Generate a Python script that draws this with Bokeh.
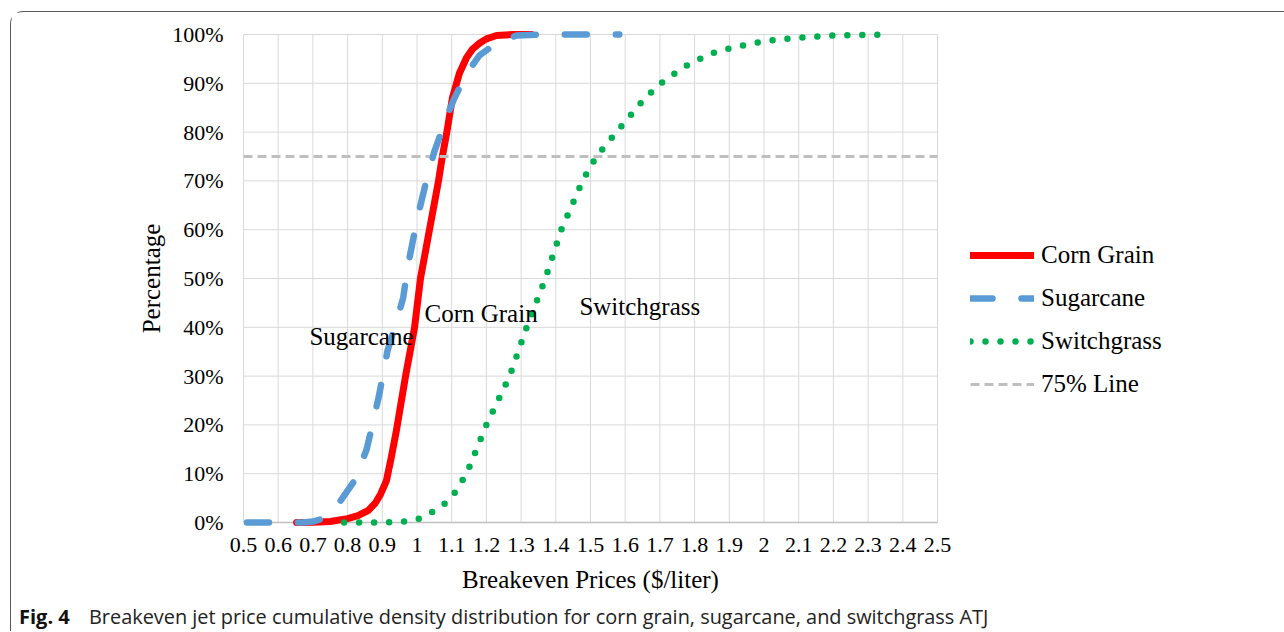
from bokeh.plotting import figure
from bokeh.models import Range1d, FixedTicker, Legend, LegendItem, Label
from bokeh.embed import file_html
from bokeh.resources import INLINE

# ---------------- data ----------------
x_ticks = [0.5, 0.6, 0.7, 0.8, 0.9, 1.0, 1.1, 1.2, 1.3, 1.4, 1.5, 1.6, 1.7,
           1.8, 1.9, 2.0, 2.1, 2.2, 2.3, 2.4, 2.5]
x_tick_labels = ["0.5", "0.6", "0.7", "0.8", "0.9", "1", "1.1", "1.2", "1.3",
                 "1.4", "1.5", "1.6", "1.7", "1.8", "1.9", "2", "2.1", "2.2",
                 "2.3", "2.4", "2.5"]
y_ticks = [0, 10, 20, 30, 40, 50, 60, 70, 80, 90, 100]
y_tick_labels = ["0%", "10%", "20%", "30%", "40%", "50%", "60%", "70%",
                 "80%", "90%", "100%"]

corn_x = [0.653, 0.70, 0.75, 0.80, 0.83, 0.86, 0.88, 0.895, 0.912, 0.925,
          0.941, 0.967, 0.993, 1.01, 1.036, 1.062, 1.073, 1.086, 1.102, 1.122,
          1.143, 1.16, 1.18, 1.20, 1.229, 1.275, 1.33]
corn_y = [0, 0.05, 0.2, 0.8, 1.4, 2.5, 4.0, 5.8, 8.6, 13, 19, 30, 40, 50, 60,
          70, 75, 80, 87, 92, 95.3, 97, 98.2, 99.1, 99.8, 100, 100]

sugar_x = [0.51, 0.60, 0.67, 0.70, 0.73, 0.76, 0.78, 0.82, 0.855, 0.89, 0.915,
           0.94, 0.96, 0.975, 1.0, 1.025, 1.05, 1.085, 1.108, 1.143, 1.18,
           1.229, 1.287, 1.36, 1.583]
sugar_y = [0, 0, 0, 0.2, 0.8, 2.5, 4.5, 8.6, 15, 25.8, 35.2, 41, 46, 53, 62,
           69.5, 76, 83, 87, 92, 95.7, 98.2, 99.8, 100, 100]

switch_x = [0.79, 0.90, 0.95, 1.0, 1.035, 1.067, 1.10, 1.143, 1.20, 1.267,
            1.316, 1.37, 1.416, 1.477, 1.517, 1.575, 1.656, 1.713, 1.777,
            1.846, 1.921, 1.999, 2.076, 2.2, 2.367]
switch_y = [0, 0, 0.1, 0.6, 1.8, 3.1, 5.1, 10, 20, 30, 40, 50, 60, 70, 75, 80,
            86.9, 90.6, 93.6, 96.1, 97.5, 98.6, 99.2, 99.8, 100]

line75_x = [0.5, 2.5]
line75_y = [75, 75]

series_names = ["Corn Grain", "Sugarcane", "Switchgrass", "75% Line"]

# ---------------- figure ----------------
SERIF = "Liberation Serif"
SANS = "Open Sans"
xpad = 4 / 347.0
ypad = 4 / 4.88

p = figure(frame_width=702, frame_height=496, output_backend="svg",
           toolbar_location=None,
           x_range=Range1d(x_ticks[0] - xpad, x_ticks[-1] + xpad),
           y_range=Range1d(y_ticks[0] - ypad, y_ticks[-1] + ypad),
           min_border_left=228, min_border_right=0,
           min_border_top=18, min_border_bottom=105)
p.styles = {"margin-left": "10px", "margin-top": "11px",
            "border-left": "1.5px solid #5a5a5a",
            "border-top": "1.5px solid #5a5a5a",
            "border-top-left-radius": "13px"}
p.outline_line_color = None
p.background_fill_color = "white"
p.border_fill_color = "white"
p.xgrid.visible = False
p.ygrid.visible = False

# grid lines from the tick arrays
n_x = len(x_ticks)
n_y = len(y_ticks)
p.segment(x0=x_ticks, y0=[y_ticks[0]] * n_x, x1=x_ticks, y1=[y_ticks[-1]] * n_x,
          line_color="#d9d9d9", line_width=1)
p.segment(x0=[x_ticks[0]] * n_y, y0=y_ticks, x1=[x_ticks[-1]] * n_y, y1=y_ticks,
          line_color="#d9d9d9", line_width=1)
# category axis line at 0%
p.segment(x0=[x_ticks[0]], y0=[y_ticks[0]], x1=[x_ticks[-1]], y1=[y_ticks[0]],
          line_color="#bfbfbf", line_width=1.5)

# axes
p.xaxis.ticker = FixedTicker(ticks=x_ticks)
p.xaxis.major_label_overrides = {t: l for t, l in zip(x_ticks, x_tick_labels)}
p.yaxis.ticker = FixedTicker(ticks=y_ticks)
p.yaxis.major_label_overrides = {t: l for t, l in zip(y_ticks, y_tick_labels)}
for ax in (p.xaxis, p.yaxis):
    ax.axis_line_color = None
    ax.major_tick_line_color = None
    ax.minor_tick_line_color = None
    ax.major_tick_out = 0
    ax.major_tick_in = 0
    ax.minor_tick_out = 0
    ax.major_label_text_font = SERIF
    ax.major_label_text_font_size = "22px"
    ax.major_label_text_color = "black"
    ax.axis_label_text_font = SERIF
    ax.axis_label_text_font_size = "25px"
    ax.axis_label_text_font_style = "normal"
    ax.axis_label_text_color = "black"
p.xaxis.major_label_standoff = 11
p.yaxis.major_label_standoff = 16
p.xaxis.axis_label = "Breakeven Prices ($/liter)"
p.yaxis.axis_label = "Percentage"
p.xaxis.axis_label_standoff = 11
p.yaxis.axis_label_standoff = 4

# series
r_corn = p.line(corn_x, corn_y, line_color="#ff0000", line_width=7,
                line_join="round", line_cap="round")
r_75 = p.line(line75_x, line75_y, line_color="#bfbfbf", line_width=3,
              line_dash="9 5")
r_sugar = p.line(sugar_x, sugar_y, line_color="#5b9bd5", line_width=6.5,
                 line_dash="22 29", line_join="round", line_cap="round")
r_switch = p.line(switch_x, switch_y, line_color="#00b050", line_width=6.5,
                  line_dash="0 15", line_join="round", line_cap="round")

# in-chart labels
for txt, lx, ly in [("Sugarcane", 0.690, 38.1), ("Corn Grain", 1.0216, 42.8),
                    ("Switchgrass", 1.468, 44.2)]:
    p.add_layout(Label(x=lx, y=ly, text=txt, text_font=SERIF,
                       text_font_size="25px", text_color="black",
                       text_baseline="alphabetic", text_align="left"))

# legend (side panel, so it is not clipped to the frame)
legend = Legend(items=[LegendItem(label=series_names[0], renderers=[r_corn]),
                       LegendItem(label=series_names[1], renderers=[r_sugar]),
                       LegendItem(label=series_names[2], renderers=[r_switch]),
                       LegendItem(label=series_names[3], renderers=[r_75])],
                location=(29, 128), orientation="vertical")
legend.border_line_color = None
legend.background_fill_alpha = 0
legend.padding = 0
legend.margin = 0
legend.glyph_width = 64
legend.glyph_height = 26
legend.label_height = 26
legend.label_standoff = 7
legend.spacing = 15
legend.label_text_font = SERIF
legend.label_text_font_size = "25px"
legend.label_text_color = "black"
legend.label_text_baseline = "middle"
p.add_layout(legend, "right")

# caption
p.add_layout(Label(x=6.5, y=602.5, x_units="canvas", y_units="canvas",
                   text="Fig. 4", text_font=SANS, text_font_size="20px",
                   text_font_style="bold", text_color="#111111",
                   text_baseline="alphabetic"), "left")
p.add_layout(Label(x=76.5, y=602.5, x_units="canvas", y_units="canvas",
                   text="Breakeven jet price cumulative density distribution for corn grain, sugarcane, and switchgrass ATJ",
                   text_font=SANS, text_font_size="19.9px",
                   text_color="#222222", text_baseline="alphabetic"), "below")

open("out.html", "w").write(file_html(p, INLINE))
